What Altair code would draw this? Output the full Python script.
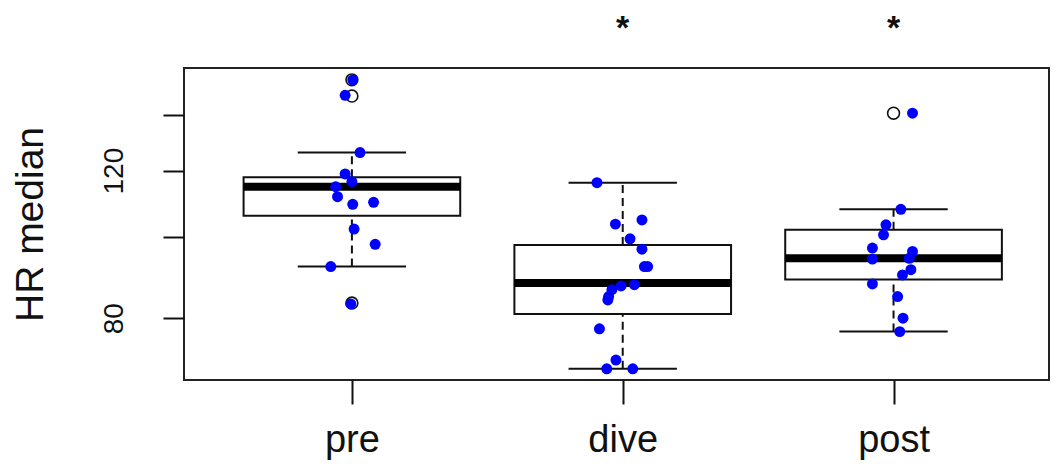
import altair as alt
import pandas as pd

groups = ["pre", "dive", "post"]
positions = [1, 2, 3]

# Box statistics
whisker_low = [92.2, 69.6, 77.1]
q1 = [106.0, 80.95, 89.0]
median = [114.8, 88.1, 94.3]
q3 = [117.8, 97.8, 102.0]
whisker_high = [126.1, 116.1, 107.9]

# Outliers (open circles)
outlier_group = ["pre", "pre", "pre", "post"]
outlier_value = [154.0, 147.3, 83.4, 140.5]

# Significance marks
stars = ["", "*", "*"]

# Jittered raw values (blue points)
pre_values = [154.0, 147.6, 126.1, 118.9, 116.4, 114.8, 111.7, 109.4, 110.0, 102.2, 98.0, 92.2, 83.2]
pre_jitter = [0.003, -0.025, 0.03, -0.025, 0.0, -0.06, -0.053, 0.003, 0.08, 0.008, 0.086, -0.078, -0.004]
dive_values = [116.1, 103.6, 104.8, 99.5, 96.7, 92.2, 92.2, 87.7, 87.4, 86.5, 84.9, 84.1, 77.7, 71.3, 69.6, 69.6]
dive_jitter = [-0.095, -0.027, 0.071, 0.027, 0.071, 0.08, 0.092, 0.043, -0.006, -0.04, -0.052, -0.055, -0.086, -0.025, -0.059, 0.037]
post_values = [140.5, 107.9, 103.4, 100.6, 97.0, 94.1, 96.1, 94.3, 91.4, 90.1, 87.9, 84.9, 80.0, 77.1]
post_jitter = [0.07, 0.027, -0.028, -0.037, -0.078, -0.078, 0.07, 0.058, 0.064, 0.033, -0.078, 0.015, 0.035, 0.023]

box_df = pd.DataFrame({
    "group": groups, "pos": positions,
    "lo": whisker_low, "q1": q1, "med": median, "q3": q3, "hi": whisker_high,
    "star": stars,
})

pos_of = dict(zip(groups, positions))
out_df = pd.DataFrame({
    "pos": [pos_of[g] for g in outlier_group],
    "value": outlier_value,
})

pts = []
for g, vals, jit in [("pre", pre_values, pre_jitter),
                     ("dive", dive_values, dive_jitter),
                     ("post", post_values, post_jitter)]:
    for v, j in zip(vals, jit):
        pts.append({"group": g, "pos": pos_of[g], "jitter": j, "value": v})
pts_df = pd.DataFrame(pts)

FONT = "Liberation Sans"

xscale = alt.Scale(domain=[0.38, 3.574], nice=False, zero=False)
yscale = alt.Scale(type="log", domain=[67.5, 159.1], nice=False, zero=False)

x_axis = alt.Axis(
    values=[1, 2, 3],
    labelExpr="['pre','dive','post'][datum.value - 1]",
    title=None, grid=False, domain=False,
    tickSize=24, tickWidth=2, tickColor="#111",
    labelFontSize=38, labelFont=FONT,
    labelColor="#111", labelPadding=17,
)
y_axis = alt.Axis(
    values=[80, 100, 120, 140],
    labelExpr="(datum.value == 80 || datum.value == 120) ? datum.value : ''",
    title="HR median", grid=False, domain=False,
    tickSize=21, tickWidth=2, tickColor="#111",
    labelFontSize=28, labelFont=FONT, labelColor="#111",
    labelAngle=270, labelAlign="center", labelBaseline="bottom", labelPadding=35,
    titleFontSize=39, titleFont=FONT, titleFontWeight="normal", titleColor="#111",
    titleAngle=270, titleX=-154, titleY=156, titleAlign="center", titleBaseline="middle",
)

base = alt.Chart(box_df)

whisk_low = base.mark_rule(color="#111", strokeWidth=2, strokeDash=[8, 5]).encode(
    x=alt.X("pos:Q", scale=xscale, axis=x_axis),
    y=alt.Y("lo:Q", scale=yscale, axis=y_axis),
    y2="q1:Q",
)
whisk_high = base.mark_rule(color="#111", strokeWidth=2, strokeDash=[8, 5]).encode(
    x=alt.X("pos:Q", scale=xscale),
    y=alt.Y("q3:Q", scale=yscale),
    y2="hi:Q",
)
box = base.transform_calculate(
    xl="datum.pos - 0.4", xr="datum.pos + 0.4"
).mark_rect(fill="white", stroke="#111", strokeWidth=2).encode(
    x=alt.X("xl:Q", scale=xscale), x2="xr:Q",
    y=alt.Y("q1:Q", scale=yscale), y2="q3:Q",
)
med = base.transform_calculate(
    xl="datum.pos - 0.4", xr="datum.pos + 0.4"
).mark_rule(color="#000", strokeWidth=8).encode(
    x=alt.X("xl:Q", scale=xscale), x2="xr:Q",
    y=alt.Y("med:Q", scale=yscale),
)
cap_low = base.transform_calculate(
    xl="datum.pos - 0.2", xr="datum.pos + 0.2"
).mark_rule(color="#111", strokeWidth=2).encode(
    x=alt.X("xl:Q", scale=xscale), x2="xr:Q",
    y=alt.Y("lo:Q", scale=yscale),
)
cap_high = base.transform_calculate(
    xl="datum.pos - 0.2", xr="datum.pos + 0.2"
).mark_rule(color="#111", strokeWidth=2).encode(
    x=alt.X("xl:Q", scale=xscale), x2="xr:Q",
    y=alt.Y("hi:Q", scale=yscale),
)
outliers = alt.Chart(out_df).mark_point(
    shape="circle", filled=False, color="#111", strokeWidth=1.6, size=140, opacity=1
).encode(
    x=alt.X("pos:Q", scale=xscale),
    y=alt.Y("value:Q", scale=yscale),
)
points = alt.Chart(pts_df).transform_calculate(
    xj="datum.pos + datum.jitter"
).mark_circle(color="#0000FF", size=120, opacity=1).encode(
    x=alt.X("xj:Q", scale=xscale),
    y=alt.Y("value:Q", scale=yscale),
)
star_text = base.mark_text(
    fontSize=34, font=FONT, color="#111", baseline="alphabetic", align="center",
    fontWeight="bold"
).encode(
    x=alt.X("pos:Q", scale=xscale),
    y=alt.value(-29),
    text="star:N",
)

chart = alt.layer(
    whisk_low, whisk_high, box, med, cap_low, cap_high, outliers, points, star_text
).properties(
    width=865, height=312,
    autosize=alt.AutoSizeParams(type="none"),
    padding={"left": 176, "top": 60, "right": 1, "bottom": 80},
    background="white",
).configure_view(
    stroke="#222", strokeWidth=2
)

chart.save("out.html", embed_options={"renderer": "svg", "actions": False})
